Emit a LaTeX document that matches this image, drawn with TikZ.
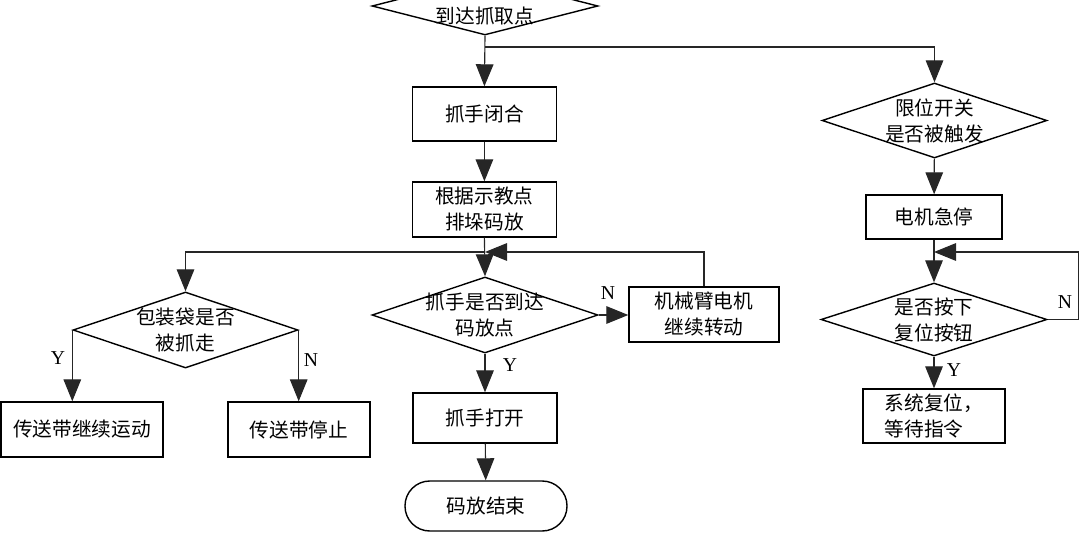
\documentclass[tikz,border=0pt]{standalone}
\usepackage{fontspec}
\setmainfont{Liberation Serif}
\newfontfamily\cjk{Noto Sans CJK SC}
\usetikzlibrary{shapes.geometric, arrows.meta, positioning}

\begin{document}
\begin{tikzpicture}[
    proc/.style={rectangle, draw, line width=1pt, minimum width=3.6cm, minimum height=1.35cm, align=center, font=\cjk\fontsize{14}{18.5}\selectfont},
    decision/.style={diamond, draw, line width=1pt, minimum width=5.65cm, minimum height=1.9cm, inner sep=0pt},
    dtext/.style={align=center, font=\cjk\fontsize{14}{18.5}\selectfont},
    yn/.style={font=\fontsize{14}{16}\selectfont},
    flow/.style={-{Triangle[length=0.55cm, width=0.44cm]}, line width=0.8pt, black!85}
]
    \useasboundingbox (0, 0) rectangle (27, 13.325);
    \clip (0, 0) rectangle (27, 13.325);

    % Main column
    \node[decision, minimum height=1.45cm, label={[dtext, yshift=-0.25cm]center:到达抓取点}] (fetch) at (12.125, 13.175) {};
    \node[proc] (grip) at (12.11, 10.475) {抓手闭合};
    \node[proc, minimum height=1.375cm] (stack) at (12.11, 8.0875) {根据示教点\\排垛码放};
    \node[decision, label={[dtext]center:{抓手是否到达\\码放点}}] (reach) at (12.125, 5.45) {};
    \node[proc, minimum width=3.75cm, minimum height=1.375cm] (motor) at (17.6, 5.4625) {机械臂电机\\继续转动};
    \node[proc, minimum height=1.25cm] (release) at (12.125, 2.875) {抓手打开};
    \node[proc, rounded corners=0.62cm, minimum width=4.05cm, minimum height=1.25cm] (finish) at (12.15, 0.675) {码放结束};

    % Left branch
    \node[decision, minimum width=5.625cm, label={[dtext]center:{包装袋是否\\被抓走}}] (bag) at (4.6375, 5.075) {};
    \node[proc, minimum width=4.05cm, minimum height=1.375cm] (beltgo) at (2.05, 2.5875) {传送带继续运动};
    \node[proc, minimum width=3.55cm, minimum height=1.375cm] (beltstop) at (7.475, 2.5875) {传送带停止};

    % Right column
    \node[decision, minimum width=5.625cm, minimum height=1.875cm, label={[dtext]center:{限位开关\\是否被触发}}] (limit) at (23.3625, 10.3125) {};
    \node[proc, minimum width=3.4cm, minimum height=1.1cm] (estop) at (23.35, 7.9) {电机急停};
    \node[decision, minimum height=1.825cm, label={[dtext]center:{是否按下\\复位按钮}}] (reset) at (23.35, 5.3375) {};
    \node[proc, minimum width=3.55cm, align=left] (sysreset) at (23.35, 2.925) {系统复位，\\等待指令};

    % Junctions
    \coordinate (split) at (12.125, 12.15);
    \coordinate (join) at (12.125, 7.025);
    \coordinate (rejoin) at (23.35, 7.025);

    % Connectors
    \draw[flow] (fetch.south) -- (grip.north);
    \draw[flow] (split) -| (limit.north);
    \draw[flow] (grip) -- (stack);
    \draw[flow] (stack.south) -- (reach.north);
    \draw[flow] (join) -| (bag.north);
    \draw[flow] (motor.north) |- (join);
    \draw[flow] (reach.east) -- (reach.east -| motor.west);
    \draw[flow] (reach) -- (release);
    \draw[flow] (release) -- (finish);
    \draw[flow] (bag.west) -- (bag.west |- beltgo.north);
    \draw[flow] (bag.east) -- (bag.east |- beltstop.north);
    \draw[flow] (limit) -- (estop);
    \draw[flow] (estop) -- (reset);
    \draw[flow] (reset.east) -- ++(0.775, 0) |- (rejoin);
    \draw[flow] (reset) -- (sysreset);

    % Y / N marks
    \node[yn] (bagy) at (1.45, 4.375) {Y};
    \node[yn] (bagn) at (7.775, 4.325) {N};
    \node[yn] (reachn) at (15.2, 6.0) {N};
    \node[yn] (reachy) at (12.75, 4.2) {Y};
    \node[yn] (resetn) at (26.625, 5.775) {N};
    \node[yn] (resety) at (23.85, 4.075) {Y};
\end{tikzpicture}
\end{document}
